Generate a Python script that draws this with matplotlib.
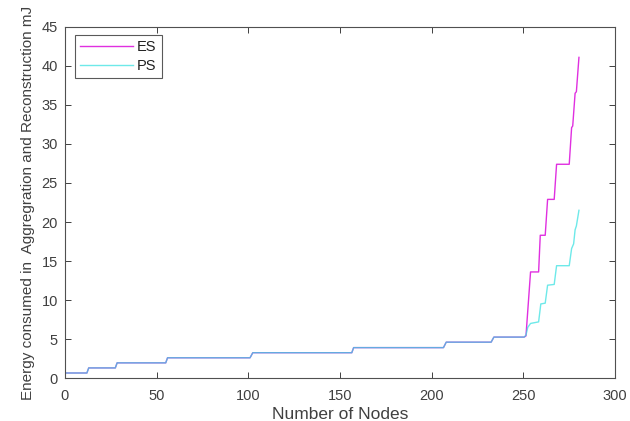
import matplotlib
matplotlib.use("Agg")
import matplotlib.pyplot as plt

# shared low-energy part (both schemes nearly identical up to ~250 nodes)
base_nodes = [0, 12, 13, 27.5, 28.5, 55, 56, 101, 102.5, 156.5, 157.5, 206.5, 208, 232.5, 234, 250.5]
base_energy = [0.65, 0.65, 1.3, 1.3, 1.95, 1.95, 2.6, 2.6, 3.25, 3.25, 3.9, 3.9, 4.6, 4.6, 5.25, 5.25]

es_tail_nodes = [251.5, 254, 258.4, 259.3, 262, 263.3, 266.9, 268.2, 275.1, 276.4, 277, 278.3, 279, 280.4]
es_tail_energy = [5.4, 13.6, 13.6, 18.3, 18.3, 22.9, 22.9, 27.4, 27.4, 32.1, 32.3, 36.5, 36.7, 41.1]

ps_tail_nodes = [251.5, 252.5, 254, 258.4, 259.6, 262, 263.3, 266.9, 268.2, 275.1, 276.4, 277.5, 278.3, 279, 280.4]
ps_tail_energy = [5.5, 6.5, 7.0, 7.2, 9.5, 9.6, 11.9, 12.0, 14.4, 14.4, 16.6, 17.2, 19.0, 19.5, 21.5]

es_x = base_nodes + es_tail_nodes
es_y = base_energy + es_tail_energy
ps_x = base_nodes + ps_tail_nodes
ps_y = base_energy + ps_tail_energy

plt.rcParams['font.family'] = ['Liberation Sans', 'DejaVu Sans']
txt = "#404040"

fig = plt.figure(figsize=(6.3, 4.21), dpi=100)
ax = fig.add_axes([0.103, 0.102, 0.873, 0.834])

ax.plot(es_x, es_y, color="#e030e0", linewidth=1.0, label="ES")
ax.plot(ps_x, ps_y, color="#30e0e0", linewidth=1.0, alpha=0.7, label="PS")

ax.set_xlim(0, 300)
ax.set_ylim(0, 45)
ax.set_xticks(range(0, 301, 50))
ax.set_yticks(range(0, 46, 5))
ax.tick_params(direction="in", top=True, right=True, length=4, width=0.7,
               labelsize=10.5, colors=txt, labelcolor=txt)
ax.tick_params(axis="x", pad=8)
ax.tick_params(axis="y", pad=5)
for s in ax.spines.values():
    s.set_color("#505050")
    s.set_linewidth(0.8)

ax.set_xlabel("Number of Nodes", fontsize=12.5, color=txt, labelpad=3)
ax.set_ylabel("Energy consumed in  Aggregration and Reconstruction mJ", fontsize=11, color=txt, labelpad=5)

leg = ax.legend(loc="upper left", bbox_to_anchor=(0.013, 0.985), fontsize=10.5, frameon=True,
                fancybox=False, edgecolor="#303030", handlelength=3.6, borderpad=0.35,
                labelspacing=0.3, handletextpad=0.3, borderaxespad=0.2)
leg.get_frame().set_linewidth(0.8)
for t in leg.get_texts():
    t.set_color("#202020")

fig.savefig("out.png", dpi=100)
